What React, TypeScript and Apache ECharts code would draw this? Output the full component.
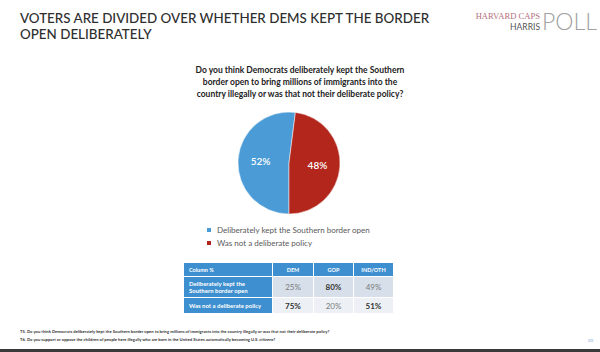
import React, { useEffect, useRef } from "react";
import * as echarts from "echarts";

const titleLines = [
  "VOTERS ARE DIVIDED OVER WHETHER DEMS KEPT THE BORDER",
  "OPEN DELIBERATELY",
];
const questionLines = [
  "Do you think Democrats deliberately kept the Southern",
  "border open to bring millions of immigrants into the",
  "country illegally or was that not their deliberate policy?",
];
const categories = [
  "Deliberately kept the Southern border open",
  "Was not a deliberate policy",
];
const values = [52, 48];
const sliceColors = ["#4A9BD6", "#B3261C"];

const tableColumns = ["Column %", "DEM", "GOP", "IND/OTH"];
const tableRowLabels = [
  ["Deliberately kept the", "Southern border open"],
  ["Was not a deliberate policy"],
];
const demValues = [25, 75];
const gopValues = [80, 20];
const indValues = [49, 51];
const boldCells = [
  [false, true, false],
  [true, false, true],
];

const footnotes = [
  "T5. Do you think Democrats deliberately kept the Southern border open to bring millions of immigrants into the country illegally or was that not their deliberate policy?",
  "T6. Do you support or oppose the children of people here illegally who are born in the United States automatically becoming U.S. citizens?",
];
const pageNumber = "20";

const FONT = "Lato, 'Open Sans', sans-serif";

export default function App() {
  const ref = useRef<HTMLDivElement>(null);
  useEffect(() => {
    document.body.style.margin = "0";
    const chart = echarts.init(ref.current!, null, { renderer: "svg" });

    const graphics: any[] = [];
    // Title
    titleLines.forEach((t, i) => {
      graphics.push({
        type: "text",
        x: 20,
        y: 18 + i * 15.5,
        style: {
          text: t,
          font: `500 13.4px ${FONT}`,
          fill: "#2E2E2E",
          textVerticalAlign: "middle",
        },
      });
    });
    // Logo
    graphics.push({
      type: "text",
      x: 540,
      y: 16,
      style: {
        text: "HARVARD CAPS",
        font: "8.6px 'Liberation Serif', serif",
        fill: "#B46F7E",
        textAlign: "right",
        textVerticalAlign: "middle",
      },
    });
    graphics.push({
      type: "text",
      x: 540,
      y: 27,
      style: {
        text: "HARRIS",
        font: `8.5px ${FONT}`,
        fill: "#555555",
        textAlign: "right",
        textVerticalAlign: "middle",
      },
    });
    graphics.push({
      type: "text",
      x: 542,
      y: 21,
      style: {
        text: "POLL",
        font: `300 23px ${FONT}`,
        fill: "#A0A0A0",
        textAlign: "left",
        textVerticalAlign: "middle",
      },
    });
    // Question
    questionLines.forEach((t, i) => {
      graphics.push({
        type: "text",
        x: 300,
        y: 70 + i * 12,
        style: {
          text: t,
          font: `bold 8.5px ${FONT}`,
          fill: "#222222",
          textAlign: "center",
          textVerticalAlign: "middle",
        },
      });
    });

    // Table
    const tx = 184;
    const colX = [184, 273, 314, 354, 394];
    const rowY = [263, 277, 298, 314];
    const gap = 1;
    for (let c = 0; c < 4; c++) {
      graphics.push({
        type: "rect",
        shape: {
          x: colX[c],
          y: rowY[0],
          width: colX[c + 1] - colX[c] - gap,
          height: rowY[1] - rowY[0] - gap,
        },
        style: { fill: "#3E8FD0" },
      });
      graphics.push({
        type: "text",
        x: c === 0 ? tx + 5 : (colX[c] + colX[c + 1] - gap) / 2,
        y: (rowY[0] + rowY[1]) / 2,
        style: {
          text: tableColumns[c],
          font: `bold 5.5px ${FONT}`,
          fill: "#FFFFFF",
          textAlign: c === 0 ? "left" : "center",
          textVerticalAlign: "middle",
        },
      });
    }
    const dataCols = [demValues, gopValues, indValues];
    const rowFills = ["#D6DFEA", "#EDF1F6"];
    for (let r = 0; r < 2; r++) {
      const y0 = rowY[r + 1];
      const h = rowY[r + 2] - y0 - gap;
      graphics.push({
        type: "rect",
        shape: { x: colX[0], y: y0, width: colX[1] - colX[0] - gap, height: h },
        style: { fill: "#3E8FD0" },
      });
      tableRowLabels[r].forEach((l, k) => {
        const n = tableRowLabels[r].length;
        graphics.push({
          type: "text",
          x: tx + 5,
          y: y0 + h / 2 + (k - (n - 1) / 2) * 7.5,
          style: {
            text: l,
            font: `bold 6px ${FONT}`,
            fill: "#FFFFFF",
            textAlign: "left",
            textVerticalAlign: "middle",
          },
        });
      });
      for (let c = 0; c < 3; c++) {
        graphics.push({
          type: "rect",
          shape: {
            x: colX[c + 1],
            y: y0,
            width: colX[c + 2] - colX[c + 1] - gap,
            height: h,
          },
          style: { fill: rowFills[r] },
        });
        const bold = boldCells[r][c];
        graphics.push({
          type: "text",
          x: (colX[c + 1] + colX[c + 2] - gap) / 2,
          y: y0 + h / 2,
          style: {
            text: dataCols[c][r] + "%",
            font: `${bold ? "bold " : ""}8px ${FONT}`,
            fill: bold ? "#333333" : "#7A7A7A",
            textAlign: "center",
            textVerticalAlign: "middle",
          },
        });
      }
    }

    // Footnotes
    footnotes.forEach((t, i) => {
      graphics.push({
        type: "text",
        x: 20,
        y: 331 + i * 8,
        style: {
          text: t,
          font: `bold 4.2px ${FONT}`,
          fill: "#333333",
          textAlign: "left",
          textVerticalAlign: "middle",
        },
      });
    });
    graphics.push({
      type: "text",
      x: 593,
      y: 340,
      style: {
        text: pageNumber,
        font: `4.5px ${FONT}`,
        fill: "#7FA7D9",
        textAlign: "right",
        textVerticalAlign: "middle",
      },
    });
    graphics.push({
      type: "rect",
      shape: { x: 0, y: 349, width: 600, height: 3 },
      style: { fill: "#3A3A3A" },
    });

    chart.setOption({
      animation: false,
      backgroundColor: "#FFFFFF",
      color: sliceColors,
      legend: {
        orient: "vertical",
        left: 200,
        top: 221,
        itemWidth: 6,
        itemHeight: 6,
        itemGap: 5,
        icon: "rect",
        data: categories,
        textStyle: { fontSize: 8, color: "#595959", fontFamily: FONT },
      },
      series: [
        {
          type: "pie",
          center: [289, 163],
          radius: 51,
          startAngle: 270,
          clockwise: true,
          label: {
            show: true,
            position: "inside",
            formatter: "{c}%",
            color: "#FFFFFF",
            fontSize: 10,
            fontWeight: 600,
            fontFamily: FONT,
          },
          labelLine: { show: false },
          itemStyle: { borderColor: "#FFFFFF", borderWidth: 0.5 },
          data: categories.map((n, i) => ({ name: n, value: values[i] })),
        },
      ],
      graphic: graphics,
    });
    return () => chart.dispose();
  }, []);
  return (
    <div
      ref={ref}
      style={{ position: "absolute", left: 0, top: 0, width: 600, height: 352 }}
    />
  );
}
